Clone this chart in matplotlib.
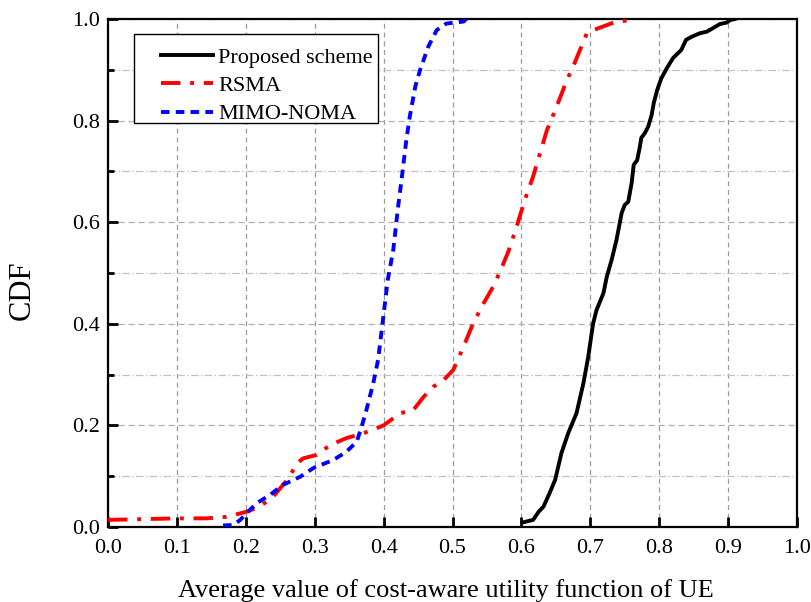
import matplotlib
matplotlib.use("Agg")
import matplotlib.pyplot as plt
from matplotlib.ticker import MultipleLocator, FormatStrFormatter
from matplotlib.patches import Rectangle

plt.rcParams['font.family'] = ['Liberation Serif', 'DejaVu Serif']

prop_x = [0.602, 0.605, 0.617, 0.625, 0.632, 0.641, 0.649, 0.658, 0.668, 0.680, 0.690,
          0.697, 0.704, 0.709, 0.719, 0.724, 0.731, 0.738, 0.7455, 0.750, 0.755, 0.760,
          0.763, 0.768, 0.772, 0.774, 0.779, 0.784, 0.789, 0.792, 0.797, 0.803, 0.811,
          0.820, 0.832, 0.839, 0.847, 0.859, 0.869, 0.878, 0.888, 0.898, 0.903, 0.910]
prop_y = [0.009, 0.010, 0.014, 0.030, 0.040, 0.067, 0.093, 0.145, 0.185, 0.224, 0.283,
          0.335, 0.400, 0.427, 0.460, 0.493, 0.526, 0.565, 0.618, 0.634, 0.640, 0.677,
          0.713, 0.722, 0.749, 0.766, 0.775, 0.788, 0.811, 0.834, 0.860, 0.883, 0.903,
          0.923, 0.939, 0.959, 0.965, 0.972, 0.975, 0.982, 0.990, 0.993, 0.998, 1.000]

rsma_x = [0.000, 0.100, 0.143, 0.172, 0.201, 0.220, 0.240, 0.262, 0.274, 0.283, 0.303,
          0.322, 0.346, 0.370, 0.400, 0.424, 0.443, 0.458, 0.472, 0.487, 0.501, 0.516,
          0.530, 0.545, 0.559, 0.571, 0.581, 0.593, 0.605, 0.617, 0.637, 0.651, 0.666,
          0.675, 0.695, 0.704, 0.724, 0.738, 0.762]
rsma_y = [0.014, 0.017, 0.017, 0.020, 0.030, 0.040, 0.060, 0.096, 0.125, 0.135, 0.142,
          0.161, 0.175, 0.184, 0.200, 0.224, 0.230, 0.256, 0.276, 0.289, 0.309, 0.355,
          0.401, 0.440, 0.473, 0.509, 0.542, 0.591, 0.644, 0.690, 0.781, 0.827, 0.880,
          0.906, 0.972, 0.978, 0.988, 0.995, 0.998]

noma_x = [0.167, 0.182, 0.192, 0.201, 0.216, 0.235, 0.254, 0.279, 0.298, 0.327, 0.346,
          0.361, 0.368, 0.375, 0.385, 0.392, 0.399, 0.406, 0.414, 0.421, 0.426, 0.433,
          0.438, 0.446, 0.453, 0.465, 0.477, 0.491, 0.516, 0.520]
noma_y = [0.003, 0.004, 0.014, 0.027, 0.047, 0.063, 0.083, 0.099, 0.116, 0.132, 0.148,
          0.168, 0.197, 0.230, 0.283, 0.329, 0.407, 0.486, 0.545, 0.630, 0.683, 0.762,
          0.808, 0.867, 0.900, 0.946, 0.978, 0.991, 0.995, 1.000]

labels = ["Proposed scheme", "RSMA", "MIMO-NOMA"]
xlabel = "Average value of cost-aware utility function of UE"
ylabel = "CDF"

fig = plt.figure(figsize=(8.11, 6.02), dpi=100)
ax = fig.add_axes([108/811, 1 - 527/602, (797-108)/811, (527-19)/602])

ax.plot(prop_x, prop_y, color='black', lw=2.8, ls='-', label=labels[0], zorder=3)
ax.plot(rsma_x, rsma_y, color='red', lw=2.8, ls=(0, (5, 2.5, 1, 2.5)), label=labels[1], zorder=3)
ax.plot(noma_x, noma_y, color='blue', lw=2.8, ls=(0, (2.2, 1.6)), label=labels[2], zorder=3)

ax.set_xlim(0, 1.0)
ax.set_ylim(0, 1.0)
ax.xaxis.set_major_locator(MultipleLocator(0.1))
ax.yaxis.set_major_locator(MultipleLocator(0.2))
ax.yaxis.set_minor_locator(MultipleLocator(0.1))
ax.xaxis.set_major_formatter(FormatStrFormatter('%.1f'))
ax.yaxis.set_major_formatter(FormatStrFormatter('%.1f'))

ax.tick_params(axis='both', which='major', direction='in', length=7.5, width=2,
               labelsize=16, top=False, right=False, pad=6)
ax.tick_params(axis='x', which='major', pad=8.5)
ax.tick_params(axis='y', which='minor', direction='in', length=4, width=2, right=False)
for s in ax.spines.values():
    s.set_linewidth(1.6)

ax.grid(True, axis='x', which='major', color='#9a9a9a', ls=(0, (4, 3)), lw=0.9)
ax.grid(True, axis='y', which='major', color='#b0b0b0', ls=(0, (5, 3)), lw=0.9)
ax.grid(True, axis='y', which='minor', color='#c0c0c0', ls=(0, (6, 2, 1, 2)), lw=0.9)
ax.set_axisbelow(True)

ax.set_xlabel(xlabel, fontsize=19)
ax.set_ylabel(ylabel, fontsize=22)
ax.xaxis.set_label_coords(0.491, -0.102)
ax.yaxis.set_label_coords(-0.104, 0.467)

# legend frame drawn separately (tighter bottom padding than matplotlib allows)
ax.add_patch(Rectangle((26/689, 404/508), 244/689, 89/508, transform=ax.transAxes,
                       facecolor='white', edgecolor='black', lw=1.0, zorder=4))
leg = ax.legend(loc='upper left', bbox_to_anchor=(53/689, 480/508), fontsize=16,
                frameon=False, handlelength=2.34, handletextpad=0.22, borderpad=0,
                labelspacing=0.355, borderaxespad=0)
leg.set_zorder(5)

fig.savefig("out.png", dpi=100)
